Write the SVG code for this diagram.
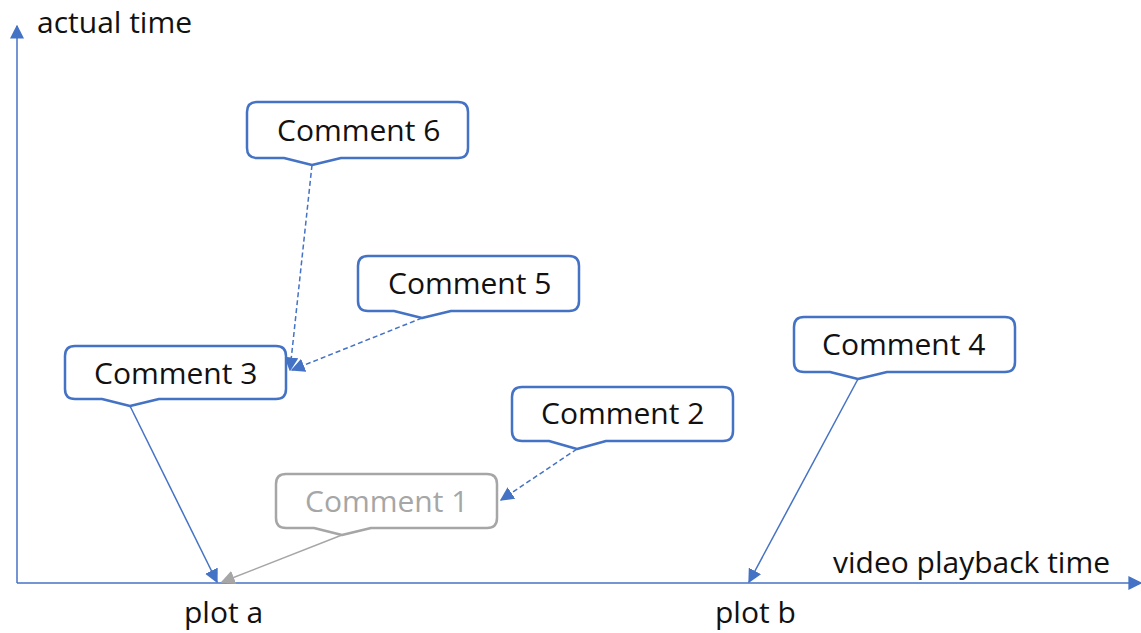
<svg xmlns="http://www.w3.org/2000/svg" width="1141" height="633" viewBox="0 0 1141 633">
<style>
.t{font-family:"Open Sans","Noto Sans",sans-serif;font-size:30px;fill:#111}
.c{fill:#fff;stroke:#4472C4;stroke-width:2.5;stroke-linejoin:round}
.g{fill:#fff;stroke:#A6A6A6;stroke-width:2.5;stroke-linejoin:round}
.ln{stroke:#4472C4;stroke-width:1.5;fill:none}
.dl{stroke:#4472C4;stroke-width:1.5;fill:none;stroke-dasharray:5 3}
.gl{stroke:#A6A6A6;stroke-width:1.5;fill:none}
</style>
<defs>
<marker id="ah" viewBox="0 0 10 10" refX="9" refY="5" markerWidth="14" markerHeight="14" markerUnits="userSpaceOnUse" orient="auto"><path d="M0,0 L10,5 L0,10 Z" fill="#4472C4"/></marker>
<marker id="ag" viewBox="0 0 10 10" refX="9" refY="5" markerWidth="14" markerHeight="14" markerUnits="userSpaceOnUse" orient="auto"><path d="M0,0 L10,5 L0,10 Z" fill="#A6A6A6"/></marker>
</defs>
<g id="axes">
<line class="ln" x1="17" y1="583" x2="17" y2="26" marker-end="url(#ah)"/>
<line class="ln" x1="17" y1="583" x2="1141" y2="583" marker-end="url(#ah)"/>
<text class="t" x="37" y="33">actual time</text>
<text class="t" x="833" y="573">video playback time</text>
<text class="t" x="184" y="623">plot a</text>
<text class="t" x="715" y="623">plot b</text>
</g>
<g id="connectors">
<line class="dl" x1="312" y1="165" x2="290" y2="370" marker-end="url(#ah)"/>
<line class="dl" x1="422" y1="318" x2="292" y2="370" marker-end="url(#ah)"/>
<line class="ln" x1="130" y1="406" x2="217" y2="582" marker-end="url(#ah)"/>
<line class="ln" x1="858" y1="379" x2="749" y2="582" marker-end="url(#ah)"/>
<line class="dl" x1="577" y1="449" x2="501" y2="500" marker-end="url(#ah)"/>
<line class="gl" x1="342" y1="535" x2="222" y2="582" marker-end="url(#ag)"/>
</g>
<g id="comment6">
<path class="c" d="M257,102 H458 Q468,102 468,112 V148 Q468,158 458,158 H341 L312,165 L284,158 H257 Q247,158 247,148 V112 Q247,102 257,102 Z"/>
<text class="t" x="277" y="141">Comment 6</text>
</g>
<g id="comment5">
<path class="c" d="M368,256 H569 Q579,256 579,266 V301 Q579,311 569,311 H451 L422,318 L394,311 H368 Q358,311 358,301 V266 Q358,256 368,256 Z"/>
<text class="t" x="388" y="294">Comment 5</text>
</g>
<g id="comment3">
<path class="c" d="M75,346 H276 Q286,346 286,356 V389 Q286,399 276,399 H159 L130,406 L102,399 H75 Q65,399 65,389 V356 Q65,346 75,346 Z"/>
<text class="t" x="94" y="384">Comment 3</text>
</g>
<g id="comment4">
<path class="c" d="M804,317 H1005 Q1015,317 1015,327 V362 Q1015,372 1005,372 H887 L858,379 L830,372 H804 Q794,372 794,362 V327 Q794,317 804,317 Z"/>
<text class="t" x="822" y="355">Comment 4</text>
</g>
<g id="comment2">
<path class="c" d="M522,387 H723 Q733,387 733,397 V431 Q733,441 723,441 H606 L577,449 L549,441 H522 Q512,441 512,431 V397 Q512,387 522,387 Z"/>
<text class="t" x="541" y="424">Comment 2</text>
</g>
<g id="comment1">
<path class="g" d="M286,474 H487 Q497,474 497,484 V518 Q497,528 487,528 H371 L342,535 L314,528 H286 Q276,528 276,518 V484 Q276,474 286,474 Z"/>
<text class="t" x="305" y="512" style="fill:#A6A6A6">Comment 1</text>
</g>
</svg>
